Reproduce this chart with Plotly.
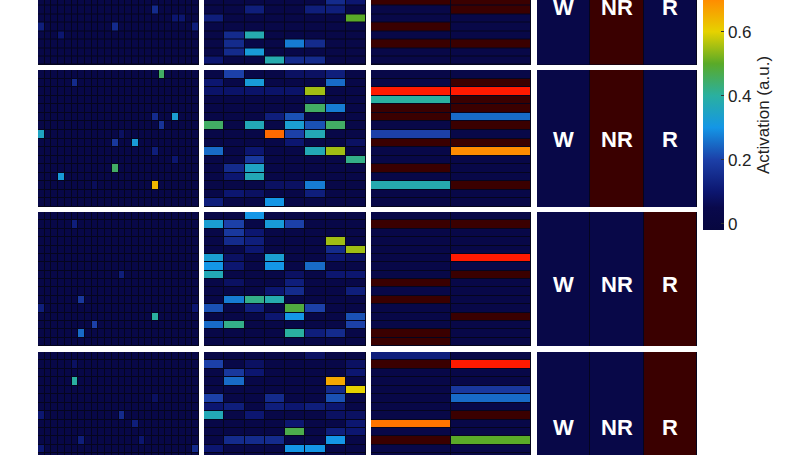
import plotly.graph_objects as go
import numpy as np

W, H = 808, 455
# panel column x extents (px) and row y extents (px)
col_px = [(38, 199), (204, 366), (371, 531), (537, 697)]
row_px = [(0, 65), (70, 207), (212, 346), (352, 455)]
# visible row window per panel row (row units, 16 rows)
row_ranges = [(15.5, 7.8), (15.5, -0.5), (15.5, -0.5), (11.7, -0.5)]
text_y = [8.7, 7.6, 8.1, 8.4]

NROWS = 16
P1_COLS, P2_COLS, P3_COLS = 24, 8, 2
BASE = 0.03
MAROON = 1.0

# sparse (row, col, value) entries
p1 = [
    [(9, 17, 0.15), (10, 20, 0.1), (10, 21, 0.1), (11, 0, 0.12), (11, 11, 0.15), (11, 23, 0.12), (12, 3, 0.1)],
    [(0, 18, 0.45), (1, 5, 0.15), (5, 17, 0.15), (5, 20, 0.33), (6, 18, 0.17), (7, 0, 0.35), (7, 12, 0.08),
     (8, 11, 0.18), (8, 14, 0.32), (9, 17, 0.12), (10, 20, 0.1), (11, 11, 0.45), (12, 3, 0.32), (13, 8, 0.07),
     (13, 17, 0.64)],
    [(1, 5, 0.12), (7, 12, 0.12), (10, 6, 0.18), (11, 0, 0.12), (11, 23, 0.1), (12, 17, 0.4), (13, 8, 0.2),
     (14, 6, 0.25)],
    [(1, 5, 0.08), (3, 5, 0.4), (5, 17, 0.08), (7, 0, 0.1), (7, 12, 0.15), (8, 14, 0.12), (10, 6, 0.12),
     (10, 15, 0.1), (11, 0, 0.1), (11, 23, 0.15)],
]
p2 = [
    [(8, 6, 0.15), (8, 7, 0.1), (9, 2, 0.12), (9, 5, 0.12), (9, 6, 0.12), (10, 0, 0.12), (10, 7, 0.5),
     (12, 1, 0.15), (12, 2, 0.38), (13, 1, 0.15), (13, 4, 0.27), (13, 5, 0.15), (14, 1, 0.15), (14, 2, 0.32),
     (15, 0, 0.1), (15, 3, 0.38), (15, 4, 0.15), (15, 5, 0.15)],
    [(0, 1, 0.2), (0, 4, 0.08), (0, 5, 0.08), (0, 6, 0.12), (1, 0, 0.1), (1, 2, 0.32), (1, 6, 0.25),
     (2, 0, 0.09), (2, 1, 0.09), (2, 2, 0.09), (2, 3, 0.09), (2, 4, 0.09), (2, 5, 0.55), (3, 5, 0.08),
     (4, 5, 0.45), (4, 6, 0.27), (5, 3, 0.12), (5, 4, 0.22), (6, 0, 0.45), (6, 2, 0.37), (6, 4, 0.33),
     (6, 5, 0.22), (6, 6, 0.45), (7, 3, 0.73), (7, 4, 0.2), (7, 5, 0.37), (8, 4, 0.1), (8, 7, 0.08),
     (9, 0, 0.25), (9, 2, 0.1), (9, 5, 0.37), (9, 6, 0.55), (10, 2, 0.18), (10, 7, 0.42), (11, 1, 0.15),
     (11, 2, 0.35), (12, 1, 0.1), (12, 2, 0.37), (13, 3, 0.08), (13, 4, 0.08), (13, 5, 0.27), (14, 1, 0.1),
     (14, 2, 0.08), (14, 5, 0.12), (15, 0, 0.12), (15, 3, 0.3)],
    [(0, 2, 0.3), (1, 0, 0.33), (1, 1, 0.2), (1, 3, 0.32), (1, 4, 0.2), (2, 1, 0.18), (2, 2, 0.1),
     (3, 1, 0.15), (3, 2, 0.12), (3, 6, 0.55), (4, 2, 0.1), (4, 6, 0.15), (4, 7, 0.55), (5, 0, 0.33),
     (5, 1, 0.08), (5, 3, 0.33), (5, 6, 0.1), (5, 7, 0.08), (6, 0, 0.3), (6, 1, 0.1), (6, 3, 0.3),
     (6, 5, 0.25), (7, 0, 0.37), (7, 4, 0.08), (7, 6, 0.1), (7, 7, 0.1), (8, 1, 0.08), (8, 4, 0.12),
     (9, 3, 0.1), (9, 4, 0.15), (9, 7, 0.12), (10, 1, 0.27), (10, 2, 0.42), (10, 3, 0.38), (11, 0, 0.22),
     (11, 2, 0.12), (11, 4, 0.48), (11, 5, 0.2), (12, 3, 0.1), (12, 4, 0.3), (12, 7, 0.22), (13, 0, 0.25),
     (13, 1, 0.42), (13, 7, 0.2), (14, 4, 0.4), (14, 5, 0.12), (14, 6, 0.15)],
    [(0, 5, 0.08), (1, 0, 0.2), (1, 2, 0.08), (1, 7, 0.08), (2, 1, 0.18), (2, 2, 0.1), (2, 7, 0.1),
     (3, 1, 0.25), (3, 6, 0.66), (4, 6, 0.15), (4, 7, 0.6), (5, 0, 0.2), (5, 3, 0.15), (5, 6, 0.22),
     (6, 0, 0.1), (6, 1, 0.12), (6, 3, 0.12), (6, 4, 0.1), (6, 5, 0.12), (6, 6, 0.1), (7, 0, 0.37),
     (7, 2, 0.1), (7, 6, 0.08), (7, 7, 0.08), (8, 4, 0.1), (8, 7, 0.1), (9, 4, 0.47), (9, 6, 0.12),
     (9, 7, 0.1), (10, 1, 0.15), (10, 2, 0.15), (10, 3, 0.15), (10, 6, 0.3), (11, 0, 0.1), (11, 4, 0.3),
     (11, 5, 0.3)],
]
p3 = [
    [(8, 0, MAROON), (8, 1, MAROON), (9, 1, MAROON), (11, 0, MAROON), (13, 0, MAROON), (13, 1, MAROON)],
    [(1, 1, MAROON), (2, 0, 0.8), (2, 1, 0.8), (3, 0, 0.4), (3, 1, MAROON), (4, 0, MAROON), (4, 1, MAROON),
     (5, 0, MAROON), (5, 1, 0.25), (6, 1, MAROON), (7, 0, 0.2), (8, 0, MAROON), (8, 1, MAROON),
     (9, 1, 0.7), (11, 0, MAROON), (13, 0, 0.38), (13, 1, MAROON)],
    [(1, 0, MAROON), (1, 1, MAROON), (5, 1, 0.8), (7, 1, MAROON), (8, 0, MAROON), (10, 0, MAROON),
     (12, 1, MAROON), (14, 0, MAROON), (15, 0, MAROON)],
    [(0, 0, 0.12), (1, 0, MAROON), (1, 1, 0.8), (4, 1, 0.18), (5, 1, 0.25), (7, 1, MAROON), (8, 0, 0.72),
     (10, 0, MAROON), (10, 1, 0.5)],
]
p4_labels = ["W", "NR", "R"]
p4 = [[BASE, MAROON, BASE], [BASE, MAROON, BASE], [BASE, BASE, MAROON], [BASE, BASE, MAROON]]

CMIN, CMAX = -0.02, 1.0
BAR_MAX = 0.699
stops = [(-0.02, "#07073f"), (0.05, "#09094c"), (0.1, "#0c1670"), (0.2, "#1c40a8"), (0.3, "#1496e6"),
         (0.4, "#2ab0a0"), (0.5, "#5aaa28"), (0.6, "#e6d200"), (0.7, "#ff8c00"), (0.8, "#ff1a00"),
         (0.9, "#a00000"), (1.0, "#3a0000")]
cscale = [[(v - CMIN) / (CMAX - CMIN), c] for v, c in stops]
bar_scale = [[(v - CMIN) / (BAR_MAX - CMIN), c] for v, c in stops if v < BAR_MAX] + [[1.0, "#ff8c00"]]


def build(entries, ncols):
    z = np.full((NROWS, ncols), BASE)
    for r, c, v in entries:
        z[r, c] = v
    return z


fig = go.Figure()
k = 0
annotations = []
for ri in range(4):
    mats = [build(p1[ri], P1_COLS), build(p2[ri], P2_COLS), build(p3[ri], P3_COLS)]
    for ci in range(4):
        k += 1
        xa = "x" if k == 1 else f"x{k}"
        ya = "y" if k == 1 else f"y{k}"
        if ci < 3:
            z = mats[ci]
            fig.add_trace(go.Heatmap(z=z, x=list(range(z.shape[1])), y=list(range(NROWS)),
                                     colorscale=cscale, zmin=CMIN, zmax=CMAX, xgap=1, ygap=1,
                                     showscale=False, hoverinfo="skip", xaxis=xa, yaxis=ya))
            xr = [-0.5, z.shape[1] - 0.5]
        else:
            fig.add_trace(go.Heatmap(z=[p4[ri]], x=[0, 1, 2], y=[-0.5, 15.5], colorscale=cscale,
                                     zmin=CMIN, zmax=CMAX, xgap=1, showscale=False, hoverinfo="skip",
                                     xaxis=xa, yaxis=ya))
            xr = [-0.5, 2.5]
            for j, lab in enumerate(p4_labels):
                annotations.append(dict(x=j, y=text_y[ri], xref=xa, yref=ya, text=f"<b>{lab}</b>",
                                        showarrow=False,
                                        font=dict(family="Liberation Sans", size=22, color="white")))
        x0, x1 = col_px[ci]
        y0, y1 = row_px[ri]
        fig.layout[f"xaxis{'' if k == 1 else k}"] = dict(domain=[x0 / W, x1 / W], range=xr, visible=False,
                                                          fixedrange=True)
        fig.layout[f"yaxis{'' if k == 1 else k}"] = dict(domain=[1 - y1 / H, 1 - y0 / H],
                                                          range=list(row_ranges[ri]), visible=False,
                                                          fixedrange=True)

# colorbar carrier (visible part of the scale only)
fig.add_trace(go.Heatmap(z=[[CMIN, BAR_MAX]], colorscale=bar_scale, zmin=CMIN, zmax=BAR_MAX,
                         showscale=True, hoverinfo="skip", opacity=0, xaxis="x", yaxis="y",
                         colorbar=dict(x=703 / W, xanchor="left", y=(H - 230) / H, yanchor="bottom",
                                       len=230 / H, lenmode="fraction", thickness=21, outlinewidth=0,
                                       xpad=0, ypad=0,
                                       ticks="inside", ticklen=3, tickcolor="#333",
                                       tickvals=[0, 0.2, 0.4, 0.6], ticktext=["0", "0.2", "0.4", "0.6"],
                                       tickfont=dict(family="Liberation Sans", size=17, color="#222"),
                                       title=dict(text="Activation (a.u.)", side="right",
                                                  font=dict(family="Liberation Sans", size=17,
                                                            color="#222")))))

fig.update_layout(width=W, height=H, margin=dict(l=0, r=0, t=0, b=0, autoexpand=False),
                  paper_bgcolor="white", plot_bgcolor="#05051e", annotations=annotations,
                  showlegend=False)
fig.write_html("out.html", config={"displayModeBar": False})

# remove the browser's default page margin so the figure fills the window
with open("out.html", encoding="utf-8") as f:
    html = f.read()
html = html.replace("<head>", "<head><style>html,body{margin:0;padding:0;overflow:hidden}</style>", 1)
with open("out.html", "w", encoding="utf-8") as f:
    f.write(html)
